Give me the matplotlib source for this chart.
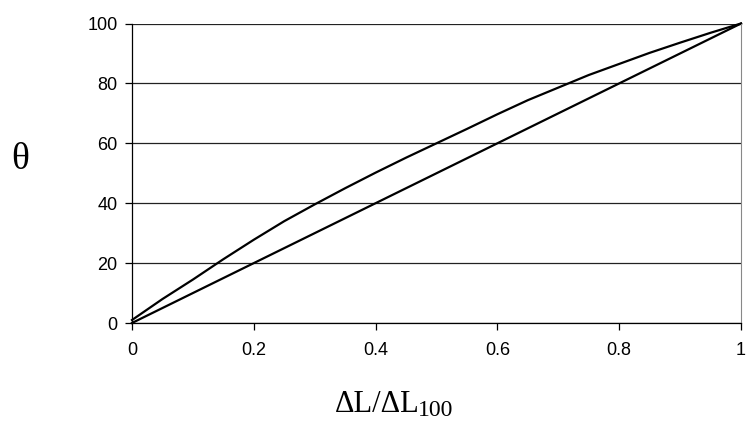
import matplotlib.pyplot as plt

# measured curve vs. the straight reference line
x_vals = [0, 0.05, 0.1, 0.15, 0.2, 0.25, 0.3, 0.35, 0.4, 0.45, 0.5,
          0.55, 0.6, 0.65, 0.7, 0.75, 0.8, 0.85, 0.9, 0.95, 1.0]
theta_vals = [1.0, 8.0, 14.5, 21.3, 27.8, 34.0, 39.6, 45.0, 50.2, 55.2, 60.0,
              64.8, 69.7, 74.4, 78.6, 82.8, 86.5, 90.2, 93.6, 96.9, 100.0]
line_x = [0, 1]
line_y = [0, 100]

x_ticks = [0, 0.2, 0.4, 0.6, 0.8, 1]
x_tick_labels = ['0', '0.2', '0.4', '0.6', '0.8', '1']
y_ticks = [0, 20, 40, 60, 80, 100]

W, H = 747, 421
fig = plt.figure(figsize=(W / 100, H / 100), dpi=100)
ax = fig.add_axes([132 / W, 1 - 323 / H, (741 - 132) / W, (323 - 23.5) / H])

ax.plot(x_vals, theta_vals, color='black', lw=1.6, clip_on=False)
ax.plot(line_x, line_y, color='black', lw=1.6, clip_on=False)

ax.set_xlim(0, 1)
ax.set_ylim(0, 100)
ax.set_xticks(x_ticks)
ax.set_xticklabels(x_tick_labels)
ax.set_yticks(y_ticks)
ax.yaxis.grid(True, color='#222222', lw=0.9)
ax.set_axisbelow(True)

for lab in ax.get_xticklabels() + ax.get_yticklabels():
    lab.set_fontfamily('Liberation Sans')
    lab.set_fontsize(13)
ax.tick_params(axis='both', direction='out', length=5, width=0.9, color='black')
ax.tick_params(axis='x', pad=9)
ax.tick_params(axis='y', pad=5.5)

ax.spines['top'].set_visible(False)
ax.spines['right'].set_color('#888888')
ax.spines['left'].set_linewidth(0.9)
ax.spines['bottom'].set_linewidth(0.9)

# y label (theta)
fig.text(20.5 / W, 1 - 160 / H, 'θ', family='Liberation Serif', fontsize=27,
         ha='center', va='center')
# x label with a hand-placed subscript
fig.text(335 / W, 9 / H, 'ΔL/ΔL', family='Liberation Serif', fontsize=22,
         ha='left', va='baseline')
fig.text(418 / W, 5 / H, '100', family='Liberation Serif', fontsize=17,
         ha='left', va='baseline')

fig.savefig('out.png', dpi=100)
